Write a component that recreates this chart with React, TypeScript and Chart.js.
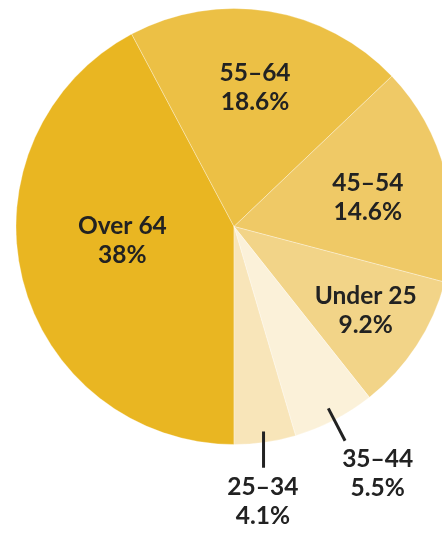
import React, { useEffect, useRef } from "react";
import { Chart, registerables } from "chart.js";

Chart.register(...registerables);

const categories = ["Over 64", "55–64", "45–54", "Under 25", "35–44", "25–34"];
const shares = [38, 18.6, 14.6, 9.2, 5.5, 4.1];
const valueLabels = ["38%", "18.6%", "14.6%", "9.2%", "5.5%", "4.1%"];
const sliceColors = ["#E9B622", "#ECC045", "#EFC966", "#F2D488", "#FBF1D9", "#F8E5B9"];

// label layout: angle offset from slice middle (deg), distance as fraction of radius
const labelLayout = [
  { dAngle: 7, frac: 0.516 },
  { dAngle: -0.6, frac: 0.645 },
  { dAngle: 2.2, frac: 0.628 },
  { dAngle: -0.6, frac: 0.717 },
  { dAngle: -2.8, frac: 1.31, leader: [0.94, 1.107], vertical: false },
  { dAngle: 2.2, frac: 1.268, leader: [0.95, 1.118], vertical: true },
];

const labelPlugin = {
  id: "sliceLabels",
  afterDatasetsDraw(chart: any) {
    const ctx = chart.ctx as CanvasRenderingContext2D;
    const meta = chart.getDatasetMeta(0);
    ctx.save();
    ctx.fillStyle = "#222222";
    ctx.strokeStyle = "#222222";
    ctx.font = "bold 24.5px Lato";
    ctx.textAlign = "center";
    ctx.textBaseline = "middle";
    meta.data.forEach((arc: any, i: number) => {
      const { x, y, startAngle, endAngle, outerRadius } = arc.getProps(
        ["x", "y", "startAngle", "endAngle", "outerRadius"],
        true
      );
      const mid = (startAngle + endAngle) / 2;
      const lay = labelLayout[i];
      if (lay.leader) {
        const sx = x + Math.cos(mid) * outerRadius * lay.leader[0];
        const sy = y + Math.sin(mid) * outerRadius * lay.leader[0];
        let ex = x + Math.cos(mid) * outerRadius * lay.leader[1];
        const ey = y + Math.sin(mid) * outerRadius * lay.leader[1];
        if (lay.vertical) ex = sx;
        ctx.lineWidth = 3;
        ctx.beginPath();
        ctx.moveTo(sx, sy);
        ctx.lineTo(ex, ey);
        ctx.stroke();
      }
      const a = mid + (lay.dAngle * Math.PI) / 180;
      const lx = x + Math.cos(a) * outerRadius * lay.frac;
      const ly = y + Math.sin(a) * outerRadius * lay.frac;
      ctx.fillText(categories[i], lx, ly - 14.5);
      ctx.fillText(valueLabels[i], lx, ly + 14.5);
    });
    ctx.restore();
  },
};

export default function App() {
  const ref = useRef<HTMLCanvasElement | null>(null);
  useEffect(() => {
    if (!ref.current) return;
    const chart = new Chart(ref.current, {
      type: "pie",
      data: {
        labels: categories,
        datasets: [
          {
            data: shares,
            backgroundColor: sliceColors,
            borderColor: "rgba(255,255,255,0.3)",
            borderWidth: 1,
          },
        ],
      },
      options: {
        responsive: false,
        maintainAspectRatio: false,
        animation: false,
        rotation: 180,
        layout: { padding: { left: 15.5, right: 17.5, top: 8, bottom: 88 } },
        plugins: {
          legend: { display: false },
          tooltip: { enabled: false },
        },
      },
      plugins: [labelPlugin],
    });
    return () => chart.destroy();
  }, []);
  return (
    <div
      style={{
        position: "absolute",
        left: 0,
        top: 0,
        width: 442,
        height: 533,
        overflow: "hidden",
        background: "#ffffff",
      }}
    >
      <canvas ref={ref} width={470} height={533} style={{ width: 470, height: 533, display: "block" }} />
    </div>
  );
}
